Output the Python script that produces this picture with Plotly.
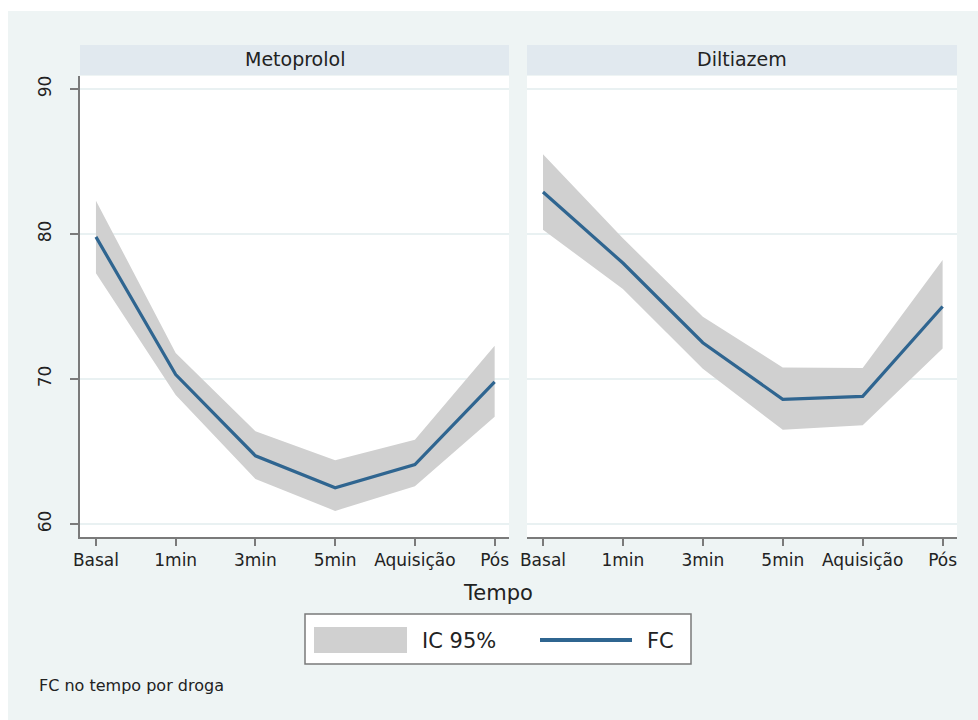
import plotly.graph_objects as go

# ---- data ----
tempo = ["Basal", "1min", "3min", "5min", "Aquisição", "Pós"]
drugs = ["Metoprolol", "Diltiazem"]
fc_meto = [79.8, 70.3, 64.7, 62.5, 64.1, 69.8]
ic_meto_hi = [82.3, 71.8, 66.4, 64.4, 65.8, 72.3]
ic_meto_lo = [77.3, 68.9, 63.1, 60.9, 62.6, 67.4]
fc_dil = [82.9, 78.0, 72.5, 68.6, 68.8, 75.0]
ic_dil_hi = [85.5, 79.7, 74.3, 70.8, 70.75, 78.2]
ic_dil_lo = [80.3, 76.2, 70.7, 66.5, 66.8, 72.1]
yticks = [60, 70, 80, 90]

W, H = 978, 720
L, R, T, B = 80, 957, 76, 537  # plot area in px
pw, ph = R - L, B - T

def px(x):
    return (x - L) / pw

def py(y):
    return (B - y) / ph

BG = "#eef4f4"
LINE = "#2f6590"
BAND = "#d0d0d0"
FONT = "DejaVu Sans"
TXT = "#222"

fig = go.Figure()
series = [(fc_meto, ic_meto_hi, ic_meto_lo), (fc_dil, ic_dil_hi, ic_dil_lo)]
for i, (fc, hi, lo) in enumerate(series):
    xa = "x" if i == 0 else "x2"
    ya = "y" if i == 0 else "y2"
    fig.add_trace(go.Scatter(x=tempo + tempo[::-1], y=hi + lo[::-1], fill="toself",
                             fillcolor=BAND, line=dict(width=0), mode="lines",
                             xaxis=xa, yaxis=ya, showlegend=False, hoverinfo="skip"))
    fig.add_trace(go.Scatter(x=tempo, y=fc, mode="lines", line=dict(color=LINE, width=3.2),
                             xaxis=xa, yaxis=ya, showlegend=False))

xr = [-0.2, 5.18]
yr = [59.1, 90.9]
xcommon = dict(type="category", categoryorder="array", categoryarray=tempo, range=xr,
               showline=True, linecolor="#7a7a7a", linewidth=1.5, ticks="outside",
               ticklen=7, tickcolor="#7a7a7a", tickwidth=1.5, showgrid=False, zeroline=False,
               tickfont=dict(family=FONT, size=17, color=TXT))
fig.update_layout(
    width=W, height=H,
    margin=dict(l=L, r=W - R, t=T, b=H - B),
    paper_bgcolor=BG, plot_bgcolor="white",
    showlegend=False,
    xaxis=dict(xcommon, domain=[0, px(509)], anchor="y"),
    xaxis2=dict(xcommon, domain=[px(527), 1], anchor="y2"),
    yaxis=dict(range=yr, tickvals=yticks, showline=True, linecolor="#7a7a7a", linewidth=1.5,
               ticks="outside", ticklen=8, tickcolor="#7a7a7a", tickwidth=1.5,
               showgrid=True, gridcolor="#e9f1f2", gridwidth=1.5, zeroline=False,
               tickangle=-90, ticklabelstandoff=12,
               tickfont=dict(family=FONT, size=17, color=TXT), anchor="x"),
    yaxis2=dict(range=yr, tickvals=yticks, showline=False, showticklabels=False, ticks="",
                showgrid=True, gridcolor="#e9f1f2", gridwidth=1.5, zeroline=False, anchor="x2"),
)

shapes = []
annotations = []
for dom, name in [((80, 509), drugs[0]), ((527, 957), drugs[1])]:
    shapes.append(dict(type="rect", xref="paper", yref="paper", x0=px(dom[0]), x1=px(dom[1]),
                       y0=py(75), y1=py(45), fillcolor="#e1e9ef", line=dict(width=0)))
    annotations.append(dict(xref="paper", yref="paper", x=px((dom[0] + dom[1]) / 2), y=py(59),
                            text=name, showarrow=False, xanchor="center", yanchor="middle",
                            font=dict(family=FONT, size=19, color=TXT)))
# gap between panels (background colour)
shapes.append(dict(type="rect", xref="paper", yref="paper", x0=px(509), x1=px(527),
                   y0=py(B), y1=py(T), fillcolor=BG, line=dict(width=0), layer="below"))

# axis title
annotations.append(dict(xref="paper", yref="paper", x=px(498), y=py(593), text="Tempo",
                        showarrow=False, xanchor="center", yanchor="middle",
                        font=dict(family=FONT, size=21, color=TXT)))
# legend box
shapes.append(dict(type="rect", xref="paper", yref="paper", x0=px(305), x1=px(691),
                   y0=py(664), y1=py(614), fillcolor="white", line=dict(color="#7a7a7a", width=1.5)))
shapes.append(dict(type="rect", xref="paper", yref="paper", x0=px(314), x1=px(407),
                   y0=py(653), y1=py(627), fillcolor=BAND, line=dict(width=0)))
shapes.append(dict(type="line", xref="paper", yref="paper", x0=px(540), x1=px(632),
                   y0=py(640), y1=py(640), line=dict(color=LINE, width=4)))
annotations.append(dict(xref="paper", yref="paper", x=px(420), y=py(641), text="IC 95%",
                        showarrow=False, xanchor="left", yanchor="middle",
                        font=dict(family=FONT, size=21, color=TXT)))
annotations.append(dict(xref="paper", yref="paper", x=px(645), y=py(641), text="FC",
                        showarrow=False, xanchor="left", yanchor="middle",
                        font=dict(family=FONT, size=21, color=TXT)))
# caption
annotations.append(dict(xref="paper", yref="paper", x=px(37), y=py(685),
                        text="FC no tempo por droga", showarrow=False, xanchor="left",
                        yanchor="middle", font=dict(family=FONT, size=16, color=TXT)))
# white outer border (top and left)
shapes.append(dict(type="rect", xref="paper", yref="paper", x0=px(0), x1=px(W),
                   y0=py(11), y1=py(0), fillcolor="white", line=dict(width=0)))
shapes.append(dict(type="rect", xref="paper", yref="paper", x0=px(0), x1=px(8),
                   y0=py(H), y1=py(0), fillcolor="white", line=dict(width=0)))

fig.update_layout(shapes=shapes, annotations=annotations)
fig.write_html("out.html", config={"displayModeBar": False},
               post_script="document.body.style.margin='0';document.body.style.overflow='hidden';")
